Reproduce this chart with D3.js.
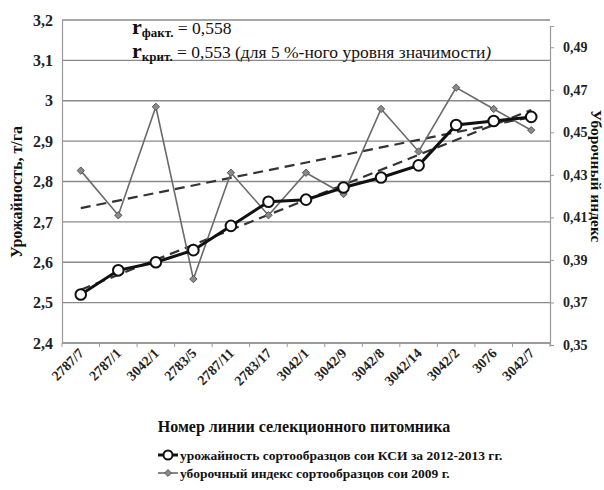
<!DOCTYPE html>
<html>
<head>
<meta charset="utf-8">
<script src="https://cdnjs.cloudflare.com/ajax/libs/d3/7.8.5/d3.min.js"></script>
<style>
  body { margin: 0; background: #fff; }
</style>
</head>
<body>
<script>
"use strict"

// categories (line numbers) and the two series
var lines = ["2787/7", "2787/1", "3042/1", "2783/5", "2787/11", "2783/17", "3042/1 ",
             "3042/9", "3042/8", "3042/14", "3042/2", "3076", "3042/7"];
var yieldVals = [2.52, 2.58, 2.60, 2.63, 2.69, 2.75, 2.755, 2.785, 2.81, 2.84, 2.94, 2.95, 2.96];
var indexVals = [0.432, 0.411, 0.462, 0.381, 0.431, 0.411, 0.431, 0.421, 0.461, 0.441, 0.471, 0.461, 0.451];
var leftTicks = [2.4, 2.5, 2.6, 2.7, 2.8, 2.9, 3.0, 3.1, 3.2];
var rightTicks = [0.35, 0.37, 0.39, 0.41, 0.43, 0.45, 0.47, 0.49];
var legendNames = ["урожайность сортообразцов сои КСИ за 2012-2013 гг.",
                   "уборочный индекс сортообразцов сои 2009 г."];

var W = 604, H = 490;
var m = {left: 62, right: 550, top: 20, bottom: 343};
var SERIF = "'Liberation Serif', 'Times New Roman', serif";

//Make an SVG Container
var svg = d3.select("body").append("svg")
            .attr("width", W)
            .attr("height", H)
            .attr("font-family", SERIF);

var comma = function (d) { return String(d).replace(".", ","); };

var x = d3.scaleBand().domain(d3.range(lines.length)).range([m.left, m.right]);
var yL = d3.scaleLinear().domain([2.4, 3.2]).range([m.bottom, m.top]);
var yR = d3.scaleLinear().domain([0.35, 0.50]).range([m.bottom + 2, m.top + 6]);
var cx = function (i) { return x(i) + x.bandwidth() / 2; };

// gridlines
svg.append("g").selectAll("line").data(leftTicks).join("line")
   .attr("x1", m.left).attr("x2", m.right)
   .attr("y1", function (d) { return yL(d); })
   .attr("y2", function (d) { return yL(d); })
   .attr("stroke", "#8a8a8a").attr("stroke-width", 1.4);

// left axis
var gl = svg.append("g").attr("transform", "translate(" + m.left + ",0)")
   .call(d3.axisLeft(yL).tickValues(leftTicks).tickSize(0).tickPadding(9)
         .tickFormat(function (d) { return comma(d3.format("~g")(d)); }));
gl.attr("font-family", SERIF);
gl.select(".domain").attr("stroke", "#999").attr("stroke-width", 1.2);
gl.selectAll("text").attr("font-size", 16).attr("font-weight", "bold").attr("fill", "#222");

// right axis
var gr = svg.append("g").attr("transform", "translate(" + m.right + ",0)")
   .call(d3.axisRight(yR).tickValues(rightTicks).tickSize(4).tickPadding(9)
         .tickFormat(function (d) { return comma(d3.format(".2f")(d)); }));
gr.attr("font-family", SERIF);
gr.select(".domain").attr("stroke", "#999").attr("stroke-width", 1.2);
gr.selectAll("line").attr("stroke", "#999");
gr.selectAll("text").attr("font-size", 14).attr("font-weight", "bold").attr("fill", "#222");

// bottom axis: ticks between categories
var gb = svg.append("g").attr("transform", "translate(0," + m.bottom + ")");
gb.append("line").attr("x1", m.left).attr("x2", m.right).attr("stroke", "#999").attr("stroke-width", 1.4);
gb.selectAll(".tk").data(d3.range(lines.length + 1)).join("line").attr("class", "tk")
  .attr("x1", function (i) { return m.left + i * x.bandwidth(); })
  .attr("x2", function (i) { return m.left + i * x.bandwidth(); })
  .attr("y1", 0).attr("y2", 4).attr("stroke", "#999");
gb.selectAll(".lb").data(lines).join("text").attr("class", "lb")
  .attr("transform", function (d, i) { return "translate(" + (cx(i) + 4) + ",11) rotate(-45)"; })
  .attr("text-anchor", "end").attr("font-size", 14).attr("font-weight", "bold").attr("fill", "#222")
  .text(function (d) { return d.trim(); });

// trend lines (least squares)
function trend(vals, scale) {
  var n = vals.length, mx = (n - 1) / 2, my = d3.mean(vals);
  var sxy = d3.sum(vals, function (v, i) { return (i - mx) * (v - my); });
  var sxx = d3.sum(vals, function (v, i) { return (i - mx) * (i - mx); });
  var b = sxy / sxx, a = my - b * mx;
  svg.append("line")
     .attr("x1", cx(0)).attr("y1", scale(a))
     .attr("x2", cx(n - 1)).attr("y2", scale(a + b * (n - 1)))
     .attr("stroke", "#333").attr("stroke-width", 2.2).attr("stroke-dasharray", "10,6");
}
trend(indexVals, yR);
trend(yieldVals, yL);

// harvest index series
svg.append("path").datum(indexVals)
   .attr("d", d3.line().x(function (d, i) { return cx(i); }).y(function (d) { return yR(d); }))
   .attr("fill", "none").attr("stroke", "#6a6a6a").attr("stroke-width", 1.6);
svg.append("g").selectAll("path").data(indexVals).join("path")
   .attr("d", d3.symbol(d3.symbolDiamond2, 34))
   .attr("transform", function (d, i) { return "translate(" + cx(i) + "," + yR(d) + ")"; })
   .attr("fill", "#8a8a8a").attr("stroke", "#555").attr("stroke-width", 1);

// yield series
svg.append("path").datum(yieldVals)
   .attr("d", d3.line().x(function (d, i) { return cx(i); }).y(function (d) { return yL(d); }))
   .attr("fill", "none").attr("stroke", "#111").attr("stroke-width", 3);
svg.append("g").selectAll("circle").data(yieldVals).join("circle")
   .attr("cx", function (d, i) { return cx(i); })
   .attr("cy", function (d) { return yL(d); })
   .attr("r", 5.3).attr("fill", "#fff").attr("stroke", "#111").attr("stroke-width", 2);

// correlation note
function rLine(y, sub, rest) {
  var t = svg.append("text").attr("x", 132).attr("y", y).attr("fill", "#111");
  t.append("tspan").attr("font-size", 22).attr("font-weight", "bold").text("r");
  t.append("tspan").attr("font-size", 13).attr("font-weight", "bold").attr("dy", 3).text(sub);
  t.append("tspan").attr("font-size", 17.5).attr("dy", -3).text(" = " + rest);
  return t;
}
rLine(34, "факт.", "0,558");
var t2 = rLine(58, "крит.", "0,553 (для 5 %-ного уровня значимости");
t2.append("tspan").attr("font-size", 17.5).attr("font-style", "italic").text(")");

// axis titles
svg.append("text").attr("transform", "translate(22,192) rotate(-90)")
   .attr("text-anchor", "middle").attr("font-size", 16).attr("font-weight", "bold").attr("fill", "#111")
   .text("Урожайность, т/га");
svg.append("text").attr("transform", "translate(591,176) rotate(90)")
   .attr("text-anchor", "middle").attr("font-size", 15.5).attr("font-weight", "bold").attr("fill", "#111")
   .text("Уборочный индекс");
svg.append("text").attr("x", 304).attr("y", 432)
   .attr("text-anchor", "middle").attr("font-size", 16).attr("font-weight", "bold").attr("fill", "#111")
   .text("Номер линии селекционного питомника");

// legend
var lg = svg.append("g").attr("transform", "translate(158,455)");
lg.append("line").attr("x1", 0).attr("x2", 20).attr("stroke", "#111").attr("stroke-width", 3);
lg.append("circle").attr("cx", 10).attr("r", 4.5).attr("fill", "#fff").attr("stroke", "#111").attr("stroke-width", 2);
lg.append("line").attr("x1", 0).attr("x2", 20).attr("y1", 18).attr("y2", 18).attr("stroke", "#6a6a6a").attr("stroke-width", 1.6);
lg.append("path").attr("d", d3.symbol(d3.symbolDiamond2, 30))
  .attr("transform", "translate(10,18)").attr("fill", "#8a8a8a").attr("stroke", "#555");
lg.selectAll("text").data(legendNames).join("text")
  .attr("x", 22).attr("y", function (d, i) { return 5 + i * 18; })
  .attr("font-size", 13.5).attr("font-weight", "bold").attr("fill", "#111")
  .text(function (d) { return d; });
</script>
</body>
</html>
